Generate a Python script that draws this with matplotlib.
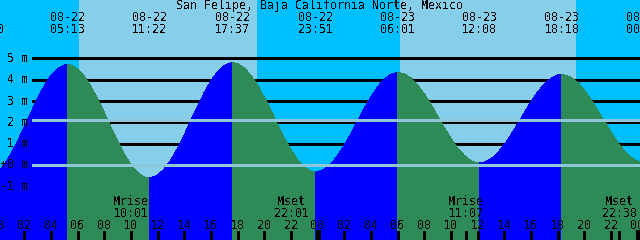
import matplotlib
matplotlib.use('Agg')
import matplotlib.pyplot as plt
import matplotlib.transforms as mtransforms
import numpy as np

plt.rcParams['font.family'] = ['DejaVu Sans Mono']
plt.rcParams['text.antialiased'] = False
plt.rcParams['lines.antialiased'] = False
plt.rcParams['patch.antialiased'] = False

# water level, hours counted from 08-22 00:00
times = [-0.83, -0.5, 0, 0.5, 1, 1.5, 2, 2.5, 3, 3.5, 4, 4.5, 5, 5.22, 5.5,
         6, 6.5, 7, 7.5, 8, 8.5, 9, 9.5, 10, 10.5, 11, 11.37, 11.5,
         12, 12.5, 13, 13.5, 14, 14.5, 15, 15.5, 16, 16.5, 17, 17.5, 17.62,
         18, 18.5, 19, 19.5, 20, 20.5, 21, 21.5, 22, 22.5, 23, 23.5, 23.85,
         24, 24.5, 25, 25.5, 26, 26.5, 27, 27.5, 28, 28.5, 29, 29.5, 30, 30.02,
         30.5, 31, 31.5, 32, 32.5, 33, 33.5, 34, 34.5, 35, 35.5, 36, 36.13,
         36.5, 37, 37.5, 38, 38.5, 39, 39.5, 40, 40.5, 41, 41.5, 42, 42.3,
         42.5, 43, 43.5, 44, 44.5, 45, 45.5, 46, 46.5, 47, 47.5, 48, 48.45]
heights = [-0.58, -0.54, -0.34, 0.03, 0.53, 1.13, 1.80, 2.48, 3.14, 3.73, 4.20, 4.53, 4.69, 4.71, 4.68,
           4.50, 4.16, 3.68, 3.10, 2.45, 1.77, 1.11, 0.51, 0.01, -0.36, -0.56, -0.61, -0.60,
           -0.47, -0.18, 0.25, 0.80, 1.43, 2.11, 2.78, 3.41, 3.96, 4.39, 4.67, 4.79, 4.80,
           4.75, 4.55, 4.20, 3.73, 3.16, 2.54, 1.89, 1.27, 0.71, 0.24, -0.10, -0.29, -0.33,
           -0.32, -0.20, 0.06, 0.45, 0.94, 1.49, 2.08, 2.67, 3.21, 3.68, 4.03, 4.26, 4.34, 4.34,
           4.27, 4.08, 3.75, 3.33, 2.83, 2.30, 1.75, 1.24, 0.79, 0.45, 0.20, 0.10, 0.09,
           0.13, 0.29, 0.57, 0.96, 1.43, 1.94, 2.46, 2.97, 3.43, 3.80, 4.07, 4.22, 4.24,
           4.23, 4.11, 3.87, 3.51, 3.07, 2.57, 2.05, 1.53, 1.06, 0.66, 0.36, 0.17, 0.12]

# high / low tide events
tide_times = [-0.83, 5.22, 11.37, 17.62, 23.85, 30.02, 36.13, 42.30, 48.45]
tide_dates = ['08-21', '08-22', '08-22', '08-22', '08-22', '08-23', '08-23', '08-23', '08-24']
tide_clock = ['23:10', '05:13', '11:22', '17:37', '23:51', '06:01', '12:08', '18:18', '00:27']

# daylight
sunrise = [6.17, 30.25]
sunset = [19.30, 43.23]

# moon events
moon_times = [10.02, 22.02, 35.12, 46.63]
moon_names = ['Mrise', 'Mset', 'Mrise', 'Mset']
moon_clock = ['10:01', '22:01', '11:07', '22:38']

level_labels = ['5 m', '4 m', '3 m', '2 m', '1 m', '+0 m', '-1 m']
level_values = [5, 4, 3, 2, 1, 0, -1]
msl = 2.1

t = np.array(times)
h = np.array(heights)

x0, x1 = 0.1725, 48.1725
y0, y1 = -3.516, 7.735
fs = 8.4

fig = plt.figure(figsize=(6.4, 2.4), dpi=100)
ax = fig.add_axes([0, 0, 1, 1])
ax.set_xlim(x0, x1)
ax.set_ylim(y0, y1)
ax.axis('off')
fig.patch.set_facecolor('#00BFFF')

for a, b in zip(sunrise, sunset):
    ax.axvspan(a, b, color='#87CEEB', zorder=0.5)

# grid lines (behind the water)
gx = x0 + 32 / 640 * (x1 - x0)
ax.hlines([1, 2, 3, 4, 5], gx, x1, colors='black', lw=0.8, zorder=1)

# water, blue while rising, green while falling
for i in range(len(tide_times) - 1):
    a, b = tide_times[i], tide_times[i + 1]
    m = (t >= a) & (t <= b)
    rising = heights[times.index(b)] > heights[times.index(a)]
    ax.fill_between(t[m], h[m], y0, facecolor='#0000FF' if rising else '#2E8B57',
                    edgecolor='none', zorder=2)

# mean sea level and datum lines
ax.hlines([msl, 0], gx, x1, colors='#8ec8d8', lw=0.8, zorder=3)

for lab, v in zip(level_labels, level_values):
    ax.text(x0 + 28 / 640 * (x1 - x0), v, lab, ha='right', va='center',
            fontsize=fs, zorder=4)

ax.text(0.5, 1 - 6 / 240, 'San Felipe, Baja California Norte, Mexico',
        transform=ax.transAxes, ha='center', va='center', fontsize=fs, zorder=4)

tr = mtransforms.blended_transform_factory(ax.transData, ax.transAxes)
for tt, d, c in zip(tide_times, tide_dates, tide_clock):
    if tt > x0:
        ax.text(tt, 1 - 17.5 / 240, d, transform=tr, ha='center', va='center',
                fontsize=fs, zorder=4)
    ax.text(tt, 1 - 29.5 / 240, c, transform=tr, ha='center', va='center',
            fontsize=fs, zorder=4)

for tt, n, c in zip(moon_times, moon_names, moon_clock):
    ax.text(tt, 1 - 201.5 / 240, n, transform=tr, ha='center', va='center',
            fontsize=fs, zorder=4)
    ax.text(tt, 1 - 213.5 / 240, c, transform=tr, ha='center', va='center',
            fontsize=fs, zorder=4)
    ax.plot([tt, tt], [0, 8 / 240], transform=tr, color='black', lw=0.8, zorder=4)

for hr in range(0, 50, 2):
    ax.text(hr, 1 - 225.5 / 240, '%02d' % (hr % 24), transform=tr, ha='center',
            va='center', fontsize=fs, zorder=4)
    lw = 2.2 if hr % 24 == 0 else 0.8
    ax.plot([hr, hr], [0, 8 / 240], transform=tr, color='black', lw=lw, zorder=4)

plt.savefig('out.png', dpi=100, facecolor=fig.get_facecolor())
